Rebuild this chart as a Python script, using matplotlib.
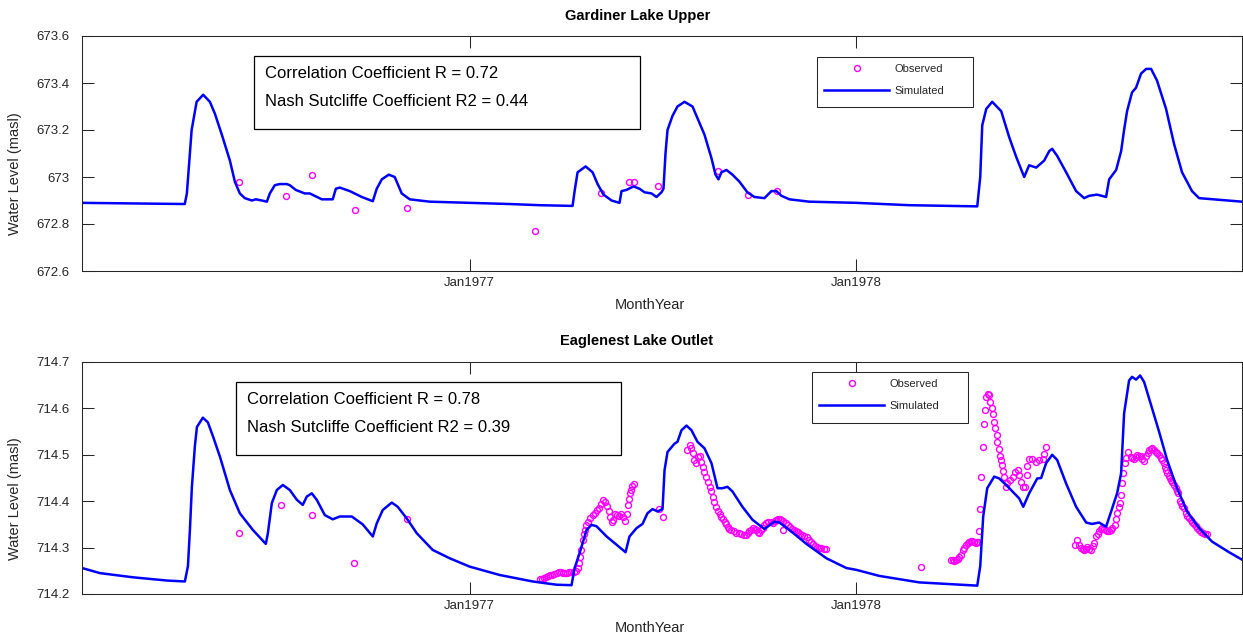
import numpy as np
import pandas as pd
import matplotlib
matplotlib.use('Agg')
import matplotlib.pyplot as plt
from matplotlib.patches import Rectangle
from matplotlib.ticker import FuncFormatter

plt.rcParams['font.family'] = ['Liberation Sans', 'DejaVu Sans']

START = pd.Timestamp('1976-01-01')
END_DAY = 1095

# ---------------- Gardiner Lake Upper (days since 1976-01-01, level masl)
g_sim_day = [0, 97, 99, 103.5, 108.2, 114.4, 120.7, 125.4, 132.0, 139.6, 144.3, 149.0,
             153.7, 160.3, 164.1, 169.8, 174.5, 177.3, 182.0, 186.7, 193.3, 196.2, 201.8,
             210.3, 215.0, 226.4, 236.7, 239.6, 243.3, 252.8, 264.1, 274.5, 278.2, 283.0,
             289.6, 295.2, 301.8, 309.4, 328.2, 365.9, 403.7, 432.0, 463.1, 465.0, 467.8,
             475.4, 482.0, 486.7, 492.3, 499.9, 507.4, 509.3, 514.0, 520.6, 526.3, 531.0,
             537.6, 542.3, 547.0, 548.9, 550.8, 552.7, 557.4, 562.1, 568.7, 576.3, 582.9,
             587.6, 594.2, 598.0, 600.8, 603.6, 608.3, 614.0, 620.6, 628.1, 634.7, 644.2,
             650.8, 655.5, 660.2, 667.8, 686.6, 731.0, 780.9, 845.1, 847.9, 849.8, 853.6,
             859.2, 867.7, 875.2, 881.9, 889.4, 894.1, 900.7, 908.3, 913.0, 915.8, 920.5,
             929.0, 938.4, 946.0, 950.7, 958.2, 966.7, 969.6, 976.2, 980.9, 983.7, 986.5,
             991.2, 995.0, 999.7, 1004.5, 1009.2, 1014.8, 1023.3, 1030.9, 1038.4, 1047.8,
             1054.5, 1095]
g_sim_lvl = [672.890, 672.885, 672.93, 673.20, 673.32, 673.35, 673.32, 673.27, 673.18, 673.07,
             672.98, 672.93, 672.91, 672.90, 672.905, 672.90, 672.895, 672.93, 672.965, 672.97,
             672.97, 672.965, 672.945, 672.93, 672.93, 672.905, 672.905, 672.95, 672.955,
             672.94, 672.915, 672.897, 672.95, 672.99, 673.01, 673.00, 672.93, 672.905,
             672.895, 672.89, 672.885, 672.88, 672.877, 672.94, 673.02, 673.045, 673.02,
             672.97, 672.925, 672.90, 672.89, 672.94, 672.945, 672.96, 672.95, 672.935,
             672.93, 672.915, 672.935, 672.95, 673.10, 673.20, 673.26, 673.30, 673.32,
             673.30, 673.23, 673.18, 673.08, 673.01, 672.99, 673.02, 673.03, 673.01, 672.98,
             672.935, 672.915, 672.91, 672.94, 672.94, 672.92, 672.905, 672.895, 672.89,
             672.88, 672.875, 673.00, 673.22, 673.29, 673.32, 673.28, 673.17, 673.085, 673.00,
             673.05, 673.04, 673.07, 673.11, 673.12, 673.09, 673.02, 672.94, 672.91, 672.92,
             672.925, 672.915, 672.99, 673.03, 673.11, 673.20, 673.28, 673.36, 673.38, 673.44,
             673.46, 673.46, 673.41, 673.29, 673.14, 673.02, 672.94, 672.91, 672.895]
g_obs_day = [148.1, 192.1, 216.9, 258.1, 306.8, 427.9, 490.2, 515.9, 521.3, 543.9, 600.1,
             628.8, 656.2]
g_obs_lvl = [672.977, 672.92, 673.01, 672.86, 672.87, 672.77, 672.93, 672.977, 672.98,
             672.96, 673.025, 672.925, 672.94]

# ---------------- Eaglenest Lake Outlet
e_sim_day = [0, 17.0, 48.1, 80.2, 97.1, 100.0, 101.9, 103.7, 106.6, 108.5, 114.1, 118.8,
             123.6, 130.2, 139.6, 149.0, 161.3, 173.5, 175.4, 179.2, 183.9, 189.6, 196.2,
             202.8, 208.4, 212.2, 216.9, 221.6, 229.2, 236.7, 243.3, 254.7, 265.0, 274.5,
             278.2, 283.9, 292.4, 298.0, 306.5, 316.0, 331.0, 347.1, 365.9, 394.2, 425.4,
             448.0, 462.1, 465.0, 469.7, 476.3, 481.0, 485.7, 495.2, 513.1, 516.8, 523.5,
             529.1, 533.8, 538.5, 543.3, 548.0, 549.9, 552.7, 559.3, 562.1, 565.9, 570.6,
             575.3, 581.0, 587.6, 594.2, 599.9, 604.6, 609.3, 614.0, 623.4, 632.9, 644.2,
             653.6, 658.3, 667.8, 683.8, 702.7, 721.5, 731.0, 752.6, 790.4, 845.1, 847.9,
             850.7, 854.5, 861.1, 865.8, 872.4, 880.0, 884.7, 888.5, 894.1, 901.7, 905.4,
             910.1, 915.8, 920.5, 929.0, 938.4, 947.9, 953.5, 960.1, 966.7, 971.5, 977.1,
             980.9, 983.7, 988.4, 991.2, 995.0, 998.8, 1002.6, 1009.2, 1016.7, 1024.3,
             1033.7, 1043.1, 1054.5, 1066.7, 1082.8, 1095]
e_sim_lvl = [714.256, 714.245, 714.236, 714.229, 714.227, 714.26, 714.34, 714.43, 714.52,
             714.56, 714.58, 714.57, 714.54, 714.496, 714.424, 714.374, 714.338, 714.308,
             714.33, 714.396, 714.424, 714.435, 714.424, 714.403, 714.392, 714.41, 714.417,
             714.403, 714.37, 714.361, 714.367, 714.367, 714.35, 714.324, 714.352, 714.381,
             714.397, 714.388, 714.363, 714.331, 714.295, 714.277, 714.259, 714.241, 714.227,
             714.22, 714.219, 714.256, 714.288, 714.338, 714.349, 714.346, 714.324, 714.29,
             714.324, 714.342, 714.351, 714.374, 714.383, 714.378, 714.383, 714.467, 714.506,
             714.524, 714.528, 714.553, 714.563, 714.553, 714.528, 714.514, 714.482, 714.428,
             714.428, 714.431, 714.421, 714.388, 714.36, 714.34, 714.356, 714.354, 714.338,
             714.308, 714.277, 714.256, 714.252, 714.239, 714.225, 714.218, 714.26, 714.367,
             714.428, 714.453, 714.449, 714.435, 714.417, 714.406, 714.388, 714.417, 714.449,
             714.45, 714.482, 714.50, 714.489, 714.438, 714.388, 714.354, 714.351, 714.354,
             714.345, 714.378, 714.417, 714.46, 714.589, 714.66, 714.668, 714.662, 714.671,
             714.657, 714.607, 714.55, 714.489, 714.428, 714.378, 714.342, 714.313, 714.29,
             714.274]

# observed, in groups
e_obs_day = [
    148.1, 187.4, 216.9, 257.2, 306.8,
    432, 434, 436, 438, 440, 442, 444, 446, 448, 450,
    452, 454, 456, 458, 460, 462, 464, 466, 468, 469.5,
    470.5, 471.5, 472.5, 473.5, 474.5, 476, 478, 480, 482, 484,
    486, 488, 490, 492, 494, 495.5, 497, 498.5, 500, 501.5,
    503, 505, 507, 509, 511, 512.5, 514, 515, 516, 517,
    518, 519.5, 521,
    545, 548, 571.5, 573.5, 575, 576.5, 578, 580, 581.5, 583,
    584.5, 586, 587.5, 589, 591, 592.5, 594, 595.5, 597, 598.5,
    600, 602, 603.5, 605, 606.5, 608, 609.5, 611, 613, 615,
    617.5, 620, 622, 624.5, 627, 629, 630, 631.5, 633, 635,
    636.5, 638, 639.5, 641, 642.5, 644, 646, 648, 650, 652,
    654, 655, 657, 658.5, 660, 661.5, 662, 664.5, 666, 668,
    670, 672, 674, 676, 678, 680, 682, 684, 686, 688,
    690, 692, 694, 696, 698, 700, 702.5,
    792.0,
    820.3, 822, 823.4, 825, 826.5, 828, 829.7, 831.2, 832.8, 834.4,
    836, 837.5, 839, 840.6, 842.2, 843.8, 845, 846.0, 847.0, 847.6,
    848.8, 850.1, 851.0, 852.0, 853.3, 854.8, 856.4, 857.3, 858.6, 859.5,
    861.1, 862.1, 863.3, 864.2, 865.2, 866.5, 867.4, 868.4, 869.6, 870.5,
    872.1, 873.6, 875.9, 878.4, 880.9, 883.1, 884.7, 886.3, 887.8, 890.3,
    891.6, 892.5, 894.1, 897.2, 900.4, 903.6, 906.7, 908.3, 909.9,
    937.5, 939.7, 941.3, 942.9, 944.5, 946.0, 947.6, 949.1, 950.7, 952.3,
    953.9, 955.4, 957.0, 958.6, 960.1, 961.7, 963.3, 964.9, 966.4, 968.0,
    969.6, 971.2, 972.7, 975.2, 976.5, 977.4, 979.0, 979.7, 980.6, 982.1,
    983.1, 984.4, 985.3, 987.5, 990.0, 991.5, 993.1, 994.7, 996.3, 997.9,
    999.5, 1001.0, 1002.6, 1004.7, 1006.0, 1007.3, 1008.8, 1010.4, 1012.0, 1013.6,
    1015.2, 1016.7, 1018.3, 1019.8, 1021.1, 1022.4, 1023.5, 1024.5, 1025.7, 1026.8,
    1028.0, 1029.3, 1030.9, 1032.5, 1033.7, 1034.9, 1036.2, 1037.5, 1038.7, 1040.3,
    1041.9, 1043.5, 1045.0, 1046.6, 1048.1, 1049.7, 1051.3, 1052.9, 1054.5, 1056.3,
    1058.2, 1060.0, 1061.7]
e_obs_lvl = [
    714.331, 714.392, 714.370, 714.267, 714.361,
    714.232, 714.233, 714.235, 714.236, 714.238, 714.240, 714.242, 714.243, 714.245, 714.247,
    714.248, 714.246, 714.245, 714.246, 714.247, 714.247, 714.248, 714.250, 714.256, 714.267,
    714.280, 714.295, 714.317, 714.330, 714.338, 714.349, 714.356, 714.363, 714.370, 714.375,
    714.380, 714.386, 714.395, 714.403, 714.398, 714.390, 714.378, 714.365, 714.355, 714.360,
    714.372, 714.370, 714.368, 714.372, 714.365, 714.358, 714.372, 714.392, 714.405, 714.417,
    714.425, 714.432, 714.436,
    714.383, 714.367, 714.510, 714.521, 714.515, 714.503, 714.489, 714.482, 714.496, 714.497,
    714.485, 714.474, 714.464, 714.453, 714.442, 714.431, 714.421, 714.410, 714.399, 714.388,
    714.378, 714.372, 714.367, 714.361, 714.356, 714.350, 714.345, 714.341, 714.338, 714.335,
    714.332, 714.331, 714.330, 714.328, 714.327, 714.332, 714.335, 714.339, 714.342, 714.340,
    714.338, 714.334, 714.331, 714.337, 714.342, 714.348, 714.353, 714.356, 714.355, 714.353,
    714.357, 714.360, 714.361, 714.361, 714.359, 714.337, 714.358, 714.353, 714.349, 714.345,
    714.341, 714.338, 714.335, 714.333, 714.330, 714.327, 714.325, 714.322, 714.316, 714.311,
    714.307, 714.304, 714.302, 714.300, 714.299, 714.298, 714.297,
    714.258,
    714.274, 714.273, 714.272, 714.273, 714.275, 714.279, 714.284, 714.295, 714.300, 714.306,
    714.310, 714.313, 714.315, 714.315, 714.312, 714.310, 714.311, 714.311, 714.335, 714.383,
    714.452, 714.517, 714.566, 714.596, 714.625, 714.632, 714.628, 714.614, 714.600, 714.587,
    714.571, 714.557, 714.542, 714.528, 714.512, 714.497, 714.489, 714.478, 714.466, 714.453,
    714.431, 714.439, 714.446, 714.453, 714.464, 714.467, 714.456, 714.442, 714.431, 714.430,
    714.456, 714.476, 714.490, 714.492, 714.485, 714.489, 714.492, 714.502, 714.517,
    714.306, 714.317, 714.305, 714.299, 714.297, 714.295, 714.298, 714.301, 714.298, 714.295,
    714.303, 714.310, 714.324, 714.330, 714.335, 714.340, 714.342, 714.340, 714.338, 714.336,
    714.335, 714.338, 714.342, 714.349, 714.361, 714.374, 714.387, 714.396, 714.413, 714.439,
    714.461, 714.482, 714.494, 714.507, 714.496, 714.493, 714.490, 714.495, 714.499, 714.498,
    714.497, 714.492, 714.487, 714.497, 714.504, 714.510, 714.513, 714.514, 714.511, 714.507,
    714.503, 714.499, 714.494, 714.489, 714.482, 714.474, 714.467, 714.460, 714.455, 714.449,
    714.446, 714.442, 714.435, 714.428, 714.423, 714.417, 714.400, 714.396, 714.390, 714.385,
    714.374, 714.369, 714.363, 714.360, 714.356, 714.351, 714.347, 714.343, 714.338, 714.334,
    714.331, 714.330, 714.330]

titles = ['Gardiner Lake Upper', 'Eaglenest Lake Outlet']
stats_text = [['Correlation Coefficient R = 0.72', 'Nash Sutcliffe Coefficient R2 = 0.44'],
              ['Correlation Coefficient R = 0.78', 'Nash Sutcliffe Coefficient R2 = 0.39']]
y_ticks = [[672.6, 672.8, 673.0, 673.2, 673.4, 673.6],
           [714.2, 714.3, 714.4, 714.5, 714.6, 714.7]]
x_tick_dates = ['1977-01-01', '1978-01-01']
x_tick_labels = ['Jan1977', 'Jan1978']
legend_labels = ['Observed', 'Simulated']
x_label = 'MonthYear'
y_label = 'Water Level (masl)'


def to_dates(days):
    return (START + pd.to_timedelta(np.asarray(days, dtype=float), unit='D')).to_numpy()


W, H = 1243, 636
fig = plt.figure(figsize=(W / 100, H / 100), dpi=100)

# axes layout in pixels: (left, top, right, bottom)
ax_px = [(82, 36, 1242, 271), (82, 362, 1242, 594)]
title_px = [(638, 16), (637, 341)]
xlabel_px = [(650, 305), (650, 628)]
ylabel_px = [(15, 174), (15, 499)]
box_px = [(254, 56, 640, 129), (236, 382, 621, 455)]
legend_px = [(817, 57, 973, 107), (812, 372, 968, 423)]

series = [(g_sim_day, g_sim_lvl, g_obs_day, g_obs_lvl),
          (e_sim_day, e_sim_lvl, e_obs_day, e_obs_lvl)]

DARK = '#262626'
for i in range(2):
    l, t, r, b = ax_px[i]
    ax = fig.add_axes([l / W, 1 - b / H, (r - l) / W, (b - t) / H])
    sd, sl, od, ol = series[i]
    ax.plot(to_dates(od), ol, linestyle='none', marker='o', markersize=4.3,
            markerfacecolor='none', markeredgecolor='#ff00ff', markeredgewidth=1.0,
            label=legend_labels[0])
    ax.plot(to_dates(sd), sl, color='#0000ff', linewidth=1.8, label=legend_labels[1])

    ax.set_xlim(to_dates([0])[0], to_dates([END_DAY])[0])
    ax.set_ylim(y_ticks[i][0], y_ticks[i][-1])
    ax.set_yticks(y_ticks[i])
    ax.yaxis.set_major_formatter(FuncFormatter(lambda v, p: f'{v:g}'))
    ax.set_xticks(pd.to_datetime(x_tick_dates).to_numpy())
    ax.set_xticklabels(x_tick_labels)
    ax.tick_params(direction='in', length=8.5, width=0.75, top=True, right=True,
                   labelsize=9.5, color=DARK, labelcolor=DARK)
    ax.tick_params(axis='y', pad=9)
    ax.tick_params(axis='x', pad=4)
    for sp in ax.spines.values():
        sp.set_color(DARK)
        sp.set_linewidth(0.75)

    ah = b - t
    aw = r - l
    tx, ty = title_px[i]
    ax.set_title(titles[i], x=(tx - l) / aw, y=1 + (t - ty) / ah, pad=0,
                 fontsize=10.5, fontweight='bold', va='center')
    xlx, xly = xlabel_px[i]
    ax.set_xlabel(x_label, fontsize=10.5, color=DARK, va='center')
    ax.xaxis.set_label_coords((xlx - l) / aw, -(xly - b) / ah)
    ylx, yly = ylabel_px[i]
    ax.set_ylabel(y_label, fontsize=10.5, color=DARK, va='center')
    ax.yaxis.set_label_coords((ylx - l) / aw, (b - yly) / ah)

    # legend: frame drawn as a plain rectangle, entries placed inside it
    lx, ly, lr, lb = legend_px[i]
    ax.add_patch(Rectangle(((lx - l) / aw, (b - lb) / ah), (lr - lx) / aw, (lb - ly) / ah,
                           transform=ax.transAxes, facecolor='white', edgecolor=DARK,
                           linewidth=0.75, zorder=4))
    leg = ax.legend(loc='upper left',
                    bbox_to_anchor=((lx + 7 - l) / aw, (b - (ly + 7)) / ah),
                    fontsize=8, handlelength=5.85, handletextpad=0.5, borderpad=0,
                    labelspacing=1.1, borderaxespad=0, frameon=False, numpoints=1)
    leg.set_zorder(5)
    for txt in leg.get_texts():
        txt.set_color(DARK)

    bx0, by0, bx1, by1 = box_px[i]
    fig.add_artist(Rectangle((bx0 / W, 1 - by1 / H), (bx1 - bx0) / W, (by1 - by0) / H,
                             transform=fig.transFigure, facecolor='white',
                             edgecolor='black', linewidth=0.9))
    fig.text((bx0 + 11) / W, 1 - (by0 + 17) / H, stats_text[i][0], fontsize=12,
             va='center', ha='left', color='black')
    fig.text((bx0 + 11) / W, 1 - (by0 + 45) / H, stats_text[i][1], fontsize=12,
             va='center', ha='left', color='black')

fig.savefig('out.png', dpi=100)
